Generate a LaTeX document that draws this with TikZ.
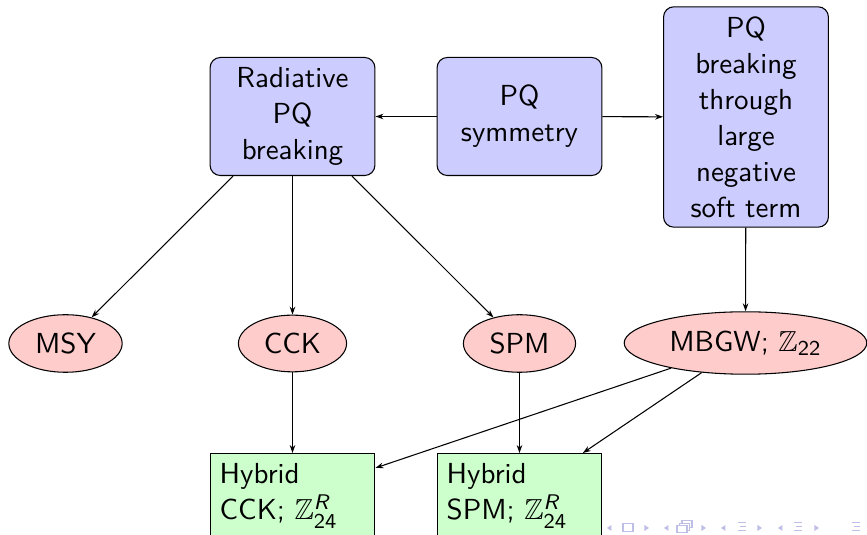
\documentclass[tikz,border=0pt]{standalone}
\usepackage{amsmath,amssymb}
\usetikzlibrary{shapes.geometric,arrows.meta}
\definecolor{navcol}{RGB}{190,190,230}
\tikzset{
  txt/.style={font=\fontsize{10.95}{13.6}\selectfont\sffamily},
  bluebox/.style={txt,draw,line width=0.4pt,fill=blue!20,rounded corners=3.9pt,
     minimum width=62.3pt,minimum height=44.6pt,text width=55pt,align=center,inner sep=3.65pt},
  redell/.style={txt,draw,line width=0.4pt,fill=red!20,ellipse,inner sep=3.65pt},
  greenbox/.style={txt,draw,line width=0.4pt,fill=green!20,minimum width=62.3pt,
     minimum height=32pt,text width=55pt,align=left,inner sep=3.65pt},
  conn/.style={line width=0.4pt,-{Stealth[length=3pt,width=2.1pt]}},
  nav/.style={fill=navcol,draw=none},
  navl/.style={draw=navcol,line width=0.38pt}
}
\begin{document}
\begin{tikzpicture}[x=0.3778pt,y=-0.3778pt]
\useasboundingbox (0,0) rectangle (867,535);
% top row
\node[bluebox] (rad) at (292.5,116.5) {Radiative\\PQ\\breaking};
\node[bluebox] (pqs) at (519.5,116.5) {PQ\\symmetry};
\node[bluebox] (pqb) at (746,117) {PQ\\breaking\\through\\large\\negative\\soft term};
% ellipses
\node[redell] (msy) at (65.5,343.5) {MSY};
\node[redell] (cck) at (292.5,343.5) {CCK};
\node[redell] (spm) at (519.5,343.5) {SPM};
\node[redell] (mbgw) at (745.5,343) {MBGW; $\mathbb{Z}_{\textsf{22}}$};
% hybrids
\node[greenbox,anchor=north] (hcck) at (292.5,453) {Hybrid\\CCK; $\mathbb{Z}^{\textsf{\itshape R}}_{\textsf{24}}$};
\node[greenbox,anchor=north] (hspm) at (519.5,453) {Hybrid\\SPM; $\mathbb{Z}^{\textsf{\itshape R}}_{\textsf{24}}$};
% connectors
\draw[conn] (pqs) -- (rad);
\draw[conn] (pqs) -- (pqb);
\draw[conn] (rad) -- (msy);
\draw[conn] (rad) -- (cck);
\draw[conn] (rad) -- (spm);
\draw[conn] (pqb) -- (mbgw);
\draw[conn] (cck) -- (hcck);
\draw[conn] (spm) -- (hspm);
\draw[conn] (mbgw) -- (hcck);
\draw[conn] (mbgw) -- (hspm);
% navigation symbols
\fill[nav] (607,528) -- (611.5,525) -- (611.5,531) -- cycle;
\draw[navl] (623,524) rectangle (633,532);
\fill[nav] (649,528) -- (644.5,525) -- (644.5,531) -- cycle;
\fill[nav] (664,528) -- (668.5,525) -- (668.5,531) -- cycle;
\draw[navl,fill=white] (682,521) rectangle (692,528);
\draw[navl,fill=white] (679.5,523.5) rectangle (689.5,530.5);
\draw[navl,fill=white] (677,526) rectangle (687,533);
\fill[nav] (706,528) -- (701.5,525) -- (701.5,531) -- cycle;
\fill[nav] (721,528) -- (725.5,525) -- (725.5,531) -- cycle;
\draw[navl] (738,523) -- (746,523) (740,527) -- (746,527) (738,531) -- (746,531);
\fill[nav] (762,528) -- (757.5,525) -- (757.5,531) -- cycle;
\fill[nav] (778,528) -- (782.5,525) -- (782.5,531) -- cycle;
\draw[navl] (794,523) -- (802,523) (796,527) -- (802,527) (794,531) -- (802,531);
\fill[nav] (819,528) -- (814.5,525) -- (814.5,531) -- cycle;
\draw[navl] (852,523) -- (860,523) (854,527) -- (860,527) (852,531) -- (860,531);
\end{tikzpicture}
\end{document}
